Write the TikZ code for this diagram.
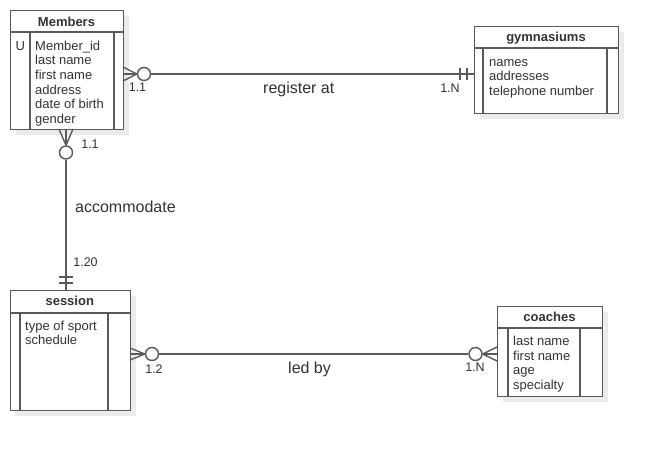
\documentclass[tikz,border=0pt]{standalone}
\usepackage{fontspec}
\setmainfont{Liberation Sans}
\usetikzlibrary{shadows}
\definecolor{erline}{HTML}{5A5A5A}
\definecolor{ertext}{HTML}{333333}
\tikzset{
  entity/.style={draw=erline, line width=1.4pt, fill=white, anchor=north west, inner sep=0pt,
    drop shadow={shadow xshift=5pt, shadow yshift=-5pt, fill=black!8, opacity=1}},
  link/.style={draw=erline, line width=1.4pt},
  ring/.style={circle, draw=erline, line width=1.4pt, fill=white, minimum size=13pt, inner sep=0pt},
  title/.style={anchor=base, inner sep=0pt, text=ertext, font=\bfseries\fontsize{13}{15}\selectfont},
  attr/.style={anchor=base west, inner sep=0pt, text=ertext, font=\fontsize{13}{15}\selectfont},
  card/.style={anchor=base, inner sep=0pt, text=ertext, font=\fontsize{12.5}{15}\selectfont},
  verb/.style={anchor=base west, inner sep=0pt, text=ertext, font=\fontsize{16}{18}\selectfont},
}
\begin{document}
\begin{tikzpicture}[x=1pt,y=-1pt]
\useasboundingbox[fill=white] (0,0) rectangle (658,450);

% Members
\node[entity, minimum width=113pt, minimum height=119pt] (members) at (10,10) {};
\draw[link] (10,32) -- (123,32) (30,32) -- (30,129) (114,32) -- (114,129);
\node[title] (members-title) at (66.5,26.5) {Members};
\node[attr] (members-key) at (15.5,50) {U};
\foreach \t [count=\i] in {Member\_id,last name,first name,address,date of birth,gender}
  \node[attr] (members-\i) at (35,{50+14.7*(\i-1)}) {\t};

% gymnasiums
\node[entity, minimum width=144pt, minimum height=87pt] (gym) at (474,26) {};
\draw[link] (474,48) -- (618,48) (483,48) -- (483,113) (607,48) -- (607,113);
\node[title] (gym-title) at (546,41) {gymnasiums};
\foreach \t [count=\i] in {names,addresses,telephone number}
  \node[attr] (gym-\i) at (489,{66+14.5*(\i-1)}) {\t};

% session
\node[entity, minimum width=120.5pt, minimum height=120pt] (session) at (9.5,290) {};
\draw[link] (9.5,313) -- (130,313) (20,313) -- (20,410) (108,313) -- (108,410);
\node[title] (session-title) at (69.75,305) {session};
\foreach \t [count=\i] in {type of sport,schedule}
  \node[attr] (session-\i) at (25,{330.5+14*(\i-1)}) {\t};

% coaches
\node[entity, minimum width=105pt, minimum height=90pt] (coaches) at (497,306) {};
\draw[link] (497,328) -- (602,328) (508,328) -- (508,396) (580,328) -- (580,396);
\node[title] (coaches-title) at (549.5,321.5) {coaches};
\foreach \t [count=\i] in {last name,first name,age,specialty}
  \node[attr] (coaches-\i) at (513,{345.5+14.5*(\i-1)}) {\t};

% register at
\coordinate (reg-a) at (123,74);
\coordinate (reg-b) at (474,74);
\node[ring] (reg-o) at (144,74) {};
\draw[link] (reg-o) -- (reg-b);
\foreach \d in {-7,0,7} \draw[link] (reg-a) ++(0,\d) -- (reg-o.west);
\foreach \x in {460,467} \draw[link] (\x,68) -- (\x,80);
\node[card] (reg-n1) at (137.5,91) {1.1};
\node[card] (reg-n2) at (450,92) {1.N};
\node[verb] (reg-label) at (263,93) {register at};

% accommodate
\coordinate (acc-a) at (66,129);
\coordinate (acc-b) at (66,290);
\node[ring] (acc-o) at (66,152.5) {};
\draw[link] (acc-o) -- (acc-b);
\foreach \d in {-7,0,7} \draw[link] (acc-a) ++(\d,0) -- (acc-o.north);
\foreach \y in {277,283} \draw[link] (59,\y) -- (73,\y);
\node[card] (acc-n1) at (90,148) {1.1};
\node[card] (acc-n2) at (85.5,266) {1.20};
\node[verb] (acc-label) at (75,212.5) {accommodate};

% led by
\coordinate (led-a) at (130,354);
\coordinate (led-b) at (497,354);
\node[ring] (led-o1) at (152,354) {};
\node[ring] (led-o2) at (475.5,354) {};
\draw[link] (led-o1) -- (led-o2);
\foreach \d in {-6,0,6} \draw[link] (led-a) ++(0,\d) -- (led-o1.west);
\foreach \d in {-7,0,7} \draw[link] (led-b) ++(0,\d) -- (led-o2.east);
\node[card] (led-n1) at (154,373) {1.2};
\node[card] (led-n2) at (475,371) {1.N};
\node[verb] (led-label) at (288,373) {led by};
\end{tikzpicture}
\end{document}
